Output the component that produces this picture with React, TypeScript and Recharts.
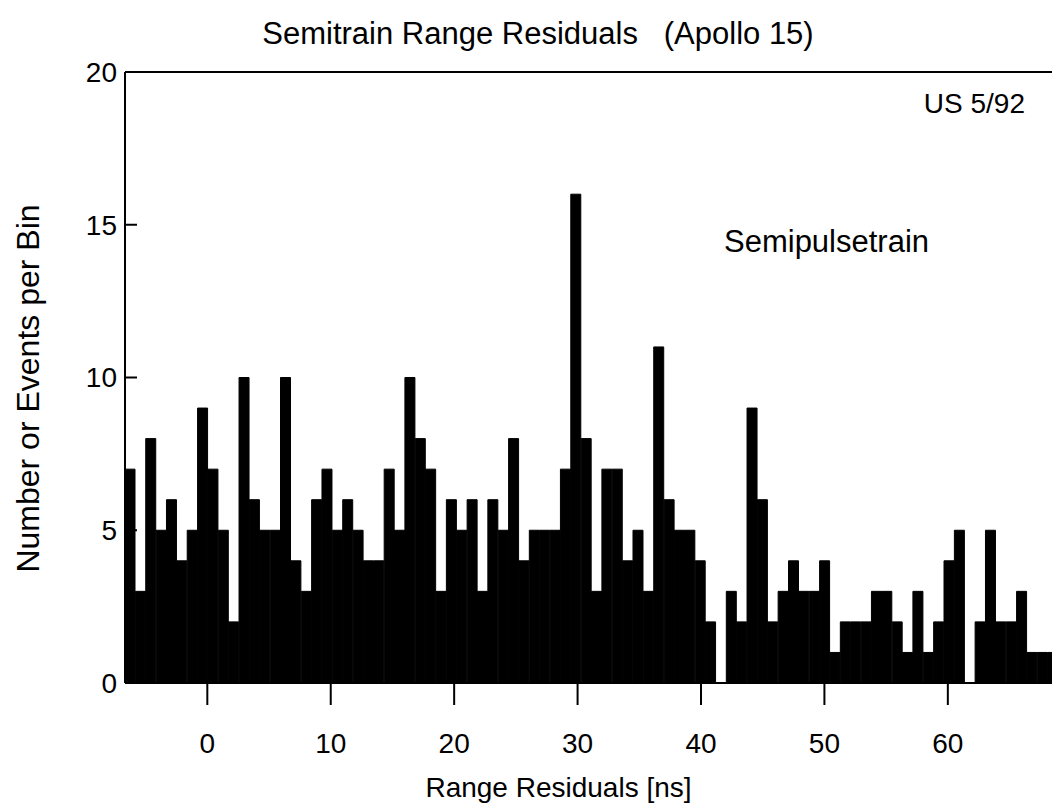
import React from 'react'
import { BarChart, Bar, XAxis, YAxis, ReferenceLine } from 'recharts'

// histogram bins, width in ns, first bin starts at the left edge of the frame
const BIN_START = -6.67
const BIN_WIDTH = 0.84

// events per bin, read left to right
const COUNTS = [
  7, 3, 8, 5, 6, 4, 5, 9, 7, 5,
  2, 10, 6, 5, 5, 10, 4, 3, 6, 7,
  5, 6, 5, 4, 4, 7, 5, 10, 8, 7,
  3, 6, 5, 6, 3, 6, 5, 8, 4, 5,
  5, 5, 7, 16, 8, 3, 7, 7, 4, 5,
  3, 11, 6, 5, 5, 4, 2, 0, 3, 2,
  9, 6, 2, 3, 4, 3, 3, 4, 1, 2,
  2, 2, 3, 3, 2, 1, 3, 1, 2, 4,
  5, 0, 2, 5, 2, 2, 3, 1, 1, 1,
]

const X_DOMAIN: [number, number] = [-6.67, 68.44]
const X_TICKS = [0, 10, 20, 30, 40, 50, 60]
const Y_TICKS = [0, 5, 10, 15, 20]

const data = COUNTS.map((n, i) => ({
  x: BIN_START + (i + 0.5) * BIN_WIDTH,
  n,
}))

const FONT = '"Liberation Sans", Arial, Helvetica, sans-serif'

export default function App() {
  return (
    <div style={{ position: 'absolute', left: 0, top: 0, width: 1052, height: 810, background: '#fff', fontFamily: FONT, color: '#000' }}>
      <div style={{ position: 'absolute', left: 0, width: 1076, top: 18, fontSize: 31, lineHeight: '31px', textAlign: 'center', whiteSpace: 'pre' }}>
        {'Semitrain Range Residuals   (Apollo 15)'}
      </div>
      <div style={{ position: 'absolute', right: 27, top: 90, fontSize: 28, lineHeight: '28px' }}>US 5/92</div>
      <div style={{ position: 'absolute', left: 724, top: 226, fontSize: 31, lineHeight: '31px' }}>Semipulsetrain</div>

      <BarChart width={1052} height={810} data={data}
        margin={{ top: 72, right: 0, bottom: 7, left: 25 }}
        barCategoryGap={0} barGap={0}>
        <XAxis dataKey="x" type="number" domain={X_DOMAIN} ticks={X_TICKS} allowDataOverflow
          height={120} tickSize={22} tickMargin={28}
          tick={{ fontSize: 28, fill: '#000' }}
          tickLine={{ stroke: '#000', strokeWidth: 2 }}
          axisLine={{ stroke: '#000', strokeWidth: 2 }}
          label={{ value: 'Range Residuals [ns]', position: 'insideBottom', offset: 6, dx: -30, fontSize: 28, fill: '#000' }} />
        <YAxis type="number" domain={[0, 20]} ticks={Y_TICKS} allowDataOverflow
          width={100} tickSize={-12} tickMargin={20}
          tick={{ fontSize: 28, fill: '#000' }}
          tickLine={{ stroke: '#000', strokeWidth: 2 }}
          axisLine={{ stroke: '#000', strokeWidth: 2 }}
          label={{ value: 'Number or Events per Bin', angle: -90, position: 'insideLeft', offset: 3, dy: 11,
            fontSize: 32, fill: '#000', style: { textAnchor: 'middle' } }} />
        <ReferenceLine y={20} stroke="#000" strokeWidth={2} />
        <Bar dataKey="n" fill="#000" stroke="#000" strokeWidth={1} isAnimationActive={false} />
      </BarChart>
    </div>
  )
}
